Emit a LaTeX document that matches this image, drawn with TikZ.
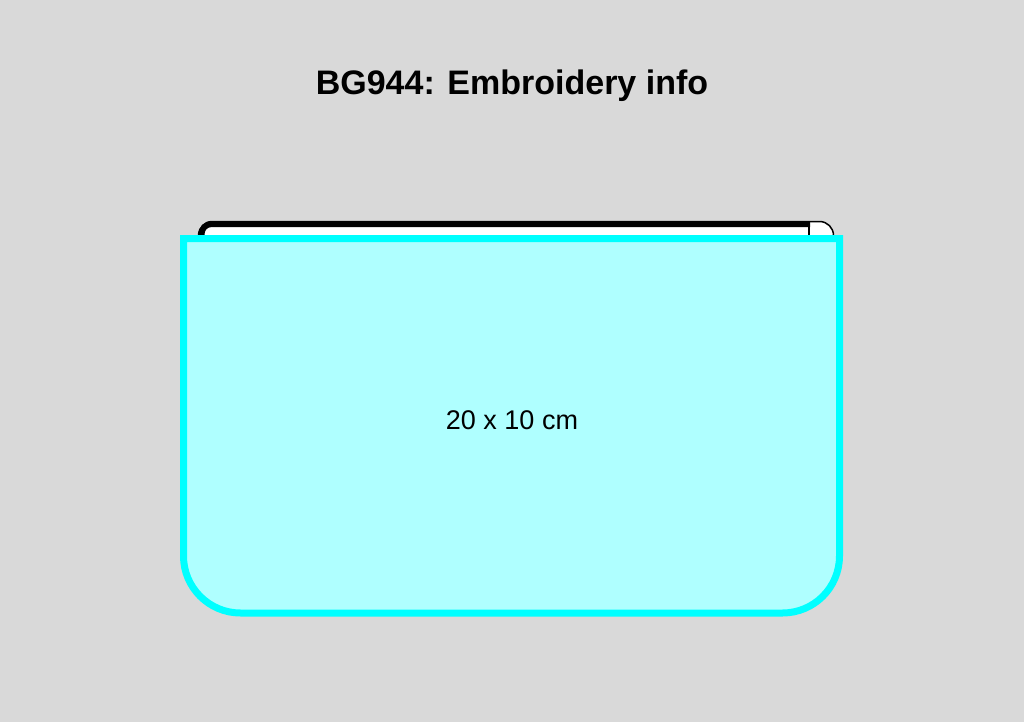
\documentclass[tikz,border=0pt]{standalone}
\usepackage{fontspec}
\setmainfont{Liberation Sans}
\definecolor{bg}{HTML}{D9D9D9}
\definecolor{zonefill}{HTML}{AFFFFF}
\definecolor{zoneline}{HTML}{00FFFF}
\begin{document}
\begin{tikzpicture}[x=1pt,y=-1pt,
  bodystyle/.style={draw=black,line width=1.5,fill=white,rounded corners=14},
  zipstyle/.style={draw=black,line width=6,rounded corners=10},
  zonestyle/.style={draw=zoneline,line width=7,fill=zonefill},
  titlestyle/.style={font=\fontsize{34}{40}\selectfont\bfseries},
  labelstyle/.style={font=\fontsize{27}{32}\selectfont}]
\fill[bg] (0,0) rectangle (1024,722);
\useasboundingbox (0,0) rectangle (1024,722);
\node[titlestyle] (title) at (512,86) {BG944: Embroidery info};
% bag body
\draw[bodystyle] (198.5,221.5) rectangle (833.5,580);
% zipper
\draw[zipstyle] (201.5,245) -- (201.5,224) -- (810,224);
\coordinate (zipA) at (809,224);
\coordinate (zipB) at (809,245);
\draw[black,line width=2] (zipA) -- (zipB);
% embroidery zone
\draw[zonestyle] (183.5,238.5) -- (839.5,238.5) -- (839.5,556)
  arc[start angle=0,end angle=90,radius=57] -- (240.5,613)
  arc[start angle=90,end angle=180,radius=57] -- cycle;
\node[labelstyle] (size) at (512,420) {20 x 10 cm};
\end{tikzpicture}
\end{document}
